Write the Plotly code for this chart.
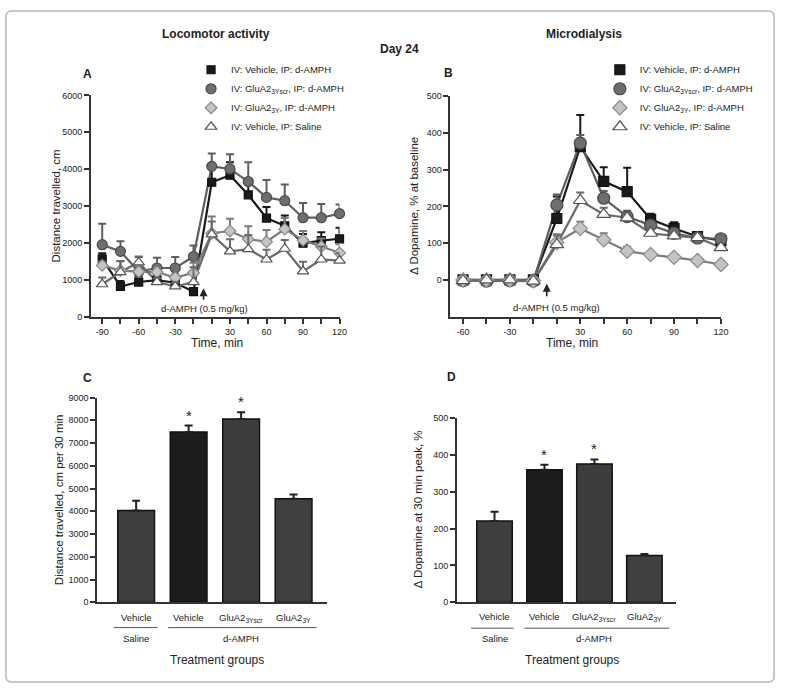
import plotly.graph_objects as go

W, H = 791, 694

# ---------------- data ----------------
times_A = [-90, -75, -60, -45, -30, -15, 15, 30, 45, 60, 75, 90, 105, 120]
veh_A = [1580, 830, 950, 1000, 930, 690, 3650, 3840, 3310, 2680, 2470, 2000, 2070, 2120]
veh_A_err = [150, 150, 150, 150, 150, 100, 400, 350, 400, 300, 280, 250, 230, 300]
scr_A = [1960, 1780, 1230, 1330, 1330, 1640, 4080, 4010, 3670, 3240, 3150, 2690, 2690, 2800]
scr_A_err = [570, 270, 400, 280, 300, 300, 350, 400, 520, 470, 440, 400, 370, 250]
y3_A = [1400, 1260, 1230, 1220, 1070, 1200, 2270, 2330, 2110, 2040, 2380, 2080, 1910, 1740]
y3_A_err = [100, 250, 150, 120, 100, 270, 450, 330, 350, 320, 300, 250, 220, 230]
sal_A = [890, 1220, 1480, 950, 830, 950, 2240, 1780, 1840, 1560, 1850, 1240, 1560, 1530]
sal_A_err = [180, 300, 160, 100, 100, 400, 350, 330, 380, 260, 240, 260, 350, 200]

times_B = [-60, -45, -30, -15, 15, 30, 45, 60, 75, 90, 105, 120]
veh_B = [0, 0, 0, 0, 167, 362, 268, 240, 165, 140, 118, 107]
veh_B_err = [8, 8, 8, 8, 60, 86, 38, 65, 15, 17, 10, 8]
scr_B = [-2, -3, -2, -3, 204, 372, 222, 172, 149, 127, 114, 112]
scr_B_err = [5, 5, 5, 5, 28, 22, 20, 16, 10, 8, 8, 8]
y3_B = [0, 0, 0, -2, 102, 140, 109, 78, 69, 62, 53, 42]
y3_B_err = [5, 5, 5, 5, 22, 18, 18, 12, 5, 5, 5, 8]
sal_B = [-2, 0, 0, -3, 96, 216, 178, 169, 127, 120, 115, 88]
sal_B_err = [5, 5, 5, 5, 25, 22, 18, 12, 10, 8, 8, 8]

group_labels = ["Vehicle", "Vehicle", "GluA2<sub>3Yscr</sub>", "GluA2<sub>3Y</sub>"]
dist_C = [4030, 7490, 8060, 4550]
dist_C_err = [430, 280, 290, 190]
dop_D = [221, 360, 376, 127]
dop_D_err = [25, 14, 12, 4]
bar_colors = ["#3e3e3e", "#1d1d1d", "#3d3d3d", "#404040"]

legend_names = ["IV: Vehicle, IP: d-AMPH", "IV: GluA2<sub>3Yscr</sub>, IP: d-AMPH",
                "IV: GluA2<sub>3Y</sub>, IP: d-AMPH", "IV: Vehicle, IP: Saline"]
time_ticks = [-90, -60, -30, 30, 60, 90, 120]

FONT = "Liberation Sans, Arial, Helvetica, sans-serif"
TXT = "#222222"
AX = "#333333"


def px(x):
    return x / W


def py(y):
    return 1 - y / H


fig = go.Figure()

styles = [
    dict(symbol="square", fill="#1a1a1a", edge="#111111", line="#1a1a1a"),
    dict(symbol="circle", fill="#6e6e6e", edge="#4a4a4a", line="#5e5e5e"),
    dict(symbol="diamond", fill="#c4c4c4", edge="#8a8a8a", line="#7c7c7c"),
    dict(symbol="triangle-up", fill="#ffffff", edge="#555555", line="#6a6a6a"),
]


def add_panel(times, series, errs, xa, ya, legend, sizes):
    pos = list(range(len(times)))
    for k, vals in enumerate(series):
        st = styles[k]
        fig.add_trace(go.Scatter(
            x=pos, y=vals, mode="lines", xaxis=xa, yaxis=ya,
            line=dict(color=st["line"], width=2.2), showlegend=False,
            hoverinfo="skip", cliponaxis=False))
    for k, (vals, err) in enumerate(zip(series, errs)):
        st = styles[k]
        fig.add_trace(go.Scatter(
            x=pos, y=vals, mode="markers", xaxis=xa, yaxis=ya,
            name=legend_names[k], legend=legend,
            marker=dict(symbol=st["symbol"], size=sizes[k], color=st["fill"],
                        line=dict(color=st["edge"], width=1.2)),
            error_y=dict(type="data", array=err, arrayminus=[0] * len(err),
                         symmetric=False, color=st["line"], thickness=2, width=4),
            cliponaxis=False))


add_panel(times_A, [veh_A, scr_A, y3_A, sal_A],
          [veh_A_err, scr_A_err, y3_A_err, sal_A_err], "x", "y", "legend", [8, 10, 9, 10])
add_panel(times_B, [veh_B, scr_B, y3_B, sal_B],
          [veh_B_err, scr_B_err, y3_B_err, sal_B_err], "x2", "y2", "legend2", [10, 12, 11, 12])

fig.add_trace(go.Bar(
    x=list(range(4)), y=dist_C, xaxis="x3", yaxis="y3", width=0.7, showlegend=False,
    marker=dict(color=bar_colors, line=dict(color="#111111", width=1.5)),
    error_y=dict(type="data", array=dist_C_err, arrayminus=[0] * 4, symmetric=False,
                 color="#222222", thickness=2, width=4)))
fig.add_trace(go.Bar(
    x=list(range(4)), y=dop_D, xaxis="x4", yaxis="y4", width=0.71, showlegend=False,
    marker=dict(color=bar_colors, line=dict(color="#111111", width=1.5)),
    error_y=dict(type="data", array=dop_D_err, arrayminus=[0] * 4, symmetric=False,
                 color="#222222", thickness=2, width=4)))

tickfont = dict(family=FONT, size=9, color=TXT)
axcommon = dict(showline=True, linecolor=AX, linewidth=1.8, ticks="outside",
                tickcolor=AX, tickwidth=1.5, ticklen=5, showgrid=False,
                zeroline=False, tickfont=tickfont)


def xticks(times):
    return [i for i in range(len(times))], [str(t) if t in time_ticks else "" for t in times]


tvA, ttA = xticks(times_A)
tvB, ttB = xticks(times_B)

fig.update_layout(
    width=W, height=H, margin=dict(l=0, r=0, t=0, b=0),
    paper_bgcolor="white", plot_bgcolor="white",
    font=dict(family=FONT, color=TXT),
    xaxis=dict(domain=[px(92), px(343)], range=[-0.61, 13.0], anchor="y",
               tickvals=tvA, ticktext=ttA, **axcommon),
    yaxis=dict(domain=[py(316.7), py(91.7)], range=[0, 6000], anchor="x",
               tickvals=list(range(0, 6001, 1000)), **axcommon),
    xaxis2=dict(domain=[px(455), px(728.3)], range=[-0.54, 11.0], anchor="y2",
                tickvals=tvB, ticktext=ttB, **axcommon),
    yaxis2=dict(domain=[py(316.7), py(92.3)], range=[-101, 500], anchor="x2",
                tickvals=list(range(0, 501, 100)), **axcommon),
    xaxis3=dict(domain=[px(98.3), px(330)], range=[-0.74, 3.63], anchor="y3",
                showline=True, linecolor=AX, linewidth=1.8, ticks="",
                showticklabels=False, showgrid=False, zeroline=False),
    yaxis3=dict(domain=[py(606), py(398.3)], range=[0, 9000], anchor="x3",
                tickvals=list(range(0, 9001, 1000)), **axcommon),
    xaxis4=dict(domain=[px(461.7), px(683.3)], range=[-0.75, 3.64], anchor="y4",
                showline=True, linecolor=AX, linewidth=1.8, ticks="",
                showticklabels=False, showgrid=False, zeroline=False),
    yaxis4=dict(domain=[py(606), py(419.3)], range=[0, 500], anchor="x4",
                tickvals=list(range(0, 501, 100)), **axcommon),
    legend=dict(x=px(193), y=py(51), xanchor="left", yanchor="top",
                font=dict(family=FONT, size=9.5, color=TXT), bgcolor="rgba(0,0,0,0)",
                tracegroupgap=0, itemwidth=30),
    legend2=dict(x=px(606), y=py(51), xanchor="left", yanchor="top",
                 font=dict(family=FONT, size=9.5, color=TXT), bgcolor="rgba(0,0,0,0)",
                 tracegroupgap=0, itemwidth=30),
)

ann = []


def text(x, y, s, size, bold=False, angle=0, xref="paper", yref="paper", xanchor="center"):
    ann.append(dict(x=x, y=y, xref=xref, yref=yref, text=("<b>%s</b>" % s) if bold else s,
                    showarrow=False, textangle=angle, xanchor=xanchor, yanchor="middle",
                    font=dict(family=FONT, size=size, color=TXT)))


text(px(218.5), py(29), "Locomotor activity", 12, bold=True)
text(px(590), py(29), "Microdialysis", 12, bold=True)
text(px(403.5), py(45), "Day 24", 12, bold=True)
text(px(88.5), py(70), "A", 12, bold=True)
text(px(453.5), py(69), "B", 12, bold=True)
text(px(88.5), py(378), "C", 12, bold=True)
text(px(456), py(377), "D", 12, bold=True)

text(px(219), py(343), "Time, min", 12)
text(px(578), py(343), "Time, min", 12)
text(px(57), py(204), "Distance travelled, cm", 11.5, angle=-90)
text(px(418), py(204), "Δ Dopamine, % at baseline", 11.5, angle=-90)
text(px(59), py(502), "Distance travelled, cm per 30 min", 11.5, angle=-90)
text(px(422), py(512), "Δ Dopamine at 30 min peak, %", 11.5, angle=-90)

ann.append(dict(x=5.55, y=780, xref="x", yref="y", ax=0, ay=13, text="", showarrow=True,
                arrowhead=2, arrowsize=1, arrowwidth=1.6, arrowcolor="#222"))
text(5.61, 224, "d-AMPH (0.5 mg/kg)", 9.5, xref="x", yref="y")
ann.append(dict(x=3.57, y=-10, xref="x2", yref="y2", ax=0, ay=14, text="", showarrow=True,
                arrowhead=2, arrowsize=1, arrowwidth=1.6, arrowcolor="#222"))
text(3.97, -74, "d-AMPH (0.5 mg/kg)", 9.5, xref="x2", yref="y2")

for xa, ya, vals, errs, yv, ysal, ytg in [
        ("x3", "y3", dist_C, dist_C_err, 621.7, 642.3, 665),
        ("x4", "y4", dop_D, dop_D_err, 620.7, 642.3, 665)]:
    for i, lab in enumerate(group_labels):
        text(i, py(yv), lab, 9.5, xref=xa)
    text(0, py(ysal), "Saline", 9.5, xref=xa)
    text(2.0, py(ysal), "d-AMPH", 9.5, xref=xa)
    text(1.55, py(ytg), "Treatment groups", 12, xref=xa)
    for i in (1, 2):
        ann.append(dict(x=i, y=vals[i] + errs[i], xref=xa, yref=ya, text="*", showarrow=False,
                        yanchor="bottom", font=dict(family=FONT, size=15, color=TXT)))

# rounded frame around the whole figure
L, R, T, B, r = 6, 782, 6, 687, 6
frame = ("M {a},{t} L {b},{t} Q {R},{t} {R},{c} L {R},{d} Q {R},{B} {b},{B} "
         "L {a},{B} Q {L},{B} {L},{d} L {L},{c} Q {L},{t} {a},{t} Z").format(
    a=px(L + r), b=px(R - r), t=py(T), c=py(T + r), d=py(B - r),
    R=px(R), B=py(B), L=px(L))

shapes = [
    dict(type="line", xref="x3", yref="paper", x0=-0.43, x1=0.41, y0=py(631.7), y1=py(631.7),
         line=dict(color="#555", width=1)),
    dict(type="line", xref="x3", yref="paper", x0=0.61, x1=3.44, y0=py(631.7), y1=py(631.7),
         line=dict(color="#555", width=1)),
    dict(type="line", xref="x4", yref="paper", x0=-0.47, x1=0.38, y0=py(632.3), y1=py(632.3),
         line=dict(color="#555", width=1)),
    dict(type="line", xref="x4", yref="paper", x0=0.6, x1=3.5, y0=py(632.3), y1=py(632.3),
         line=dict(color="#555", width=1)),
    dict(type="path", xref="paper", yref="paper", path=frame,
         line=dict(color="#b8b8b8", width=1.5)),
]

fig.update_layout(annotations=ann, shapes=shapes)
fig.write_html("out.html", config={"displayModeBar": False},
               post_script="document.body.style.margin='0';")
